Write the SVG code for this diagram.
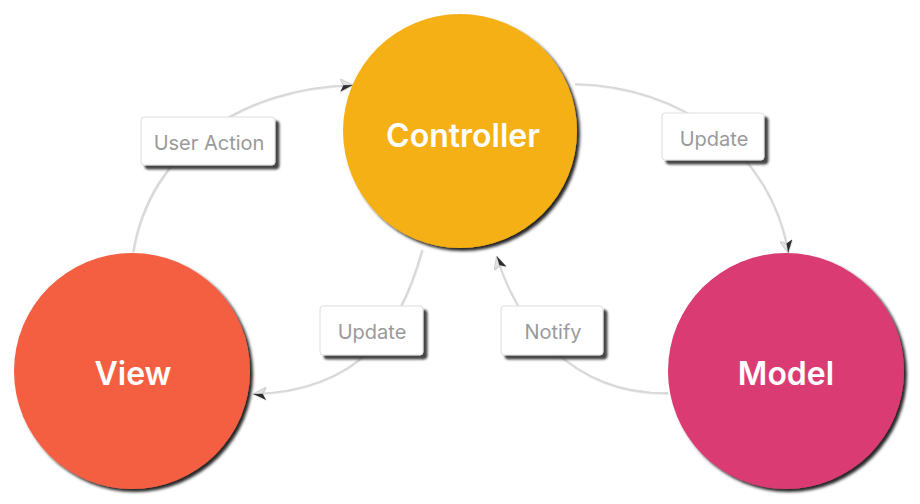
<svg xmlns="http://www.w3.org/2000/svg" width="920" height="504" viewBox="0 0 920 504">
<defs>
<style>
.node-text{font-family:Inter,"Open Sans","Liberation Sans",sans-serif;font-weight:600;font-size:32px;fill:#ffffff;text-anchor:middle}
.lbl-text{font-family:Inter,"Open Sans","Liberation Sans",sans-serif;font-size:20px;fill:#9a9a9a;text-anchor:middle}
.lbl-box{fill:#ffffff;stroke:#dddddd;stroke-width:1}
.conn{fill:none;stroke:#d8d8d8;stroke-width:1.6}
</style>
<filter id="cs" x="-10%" y="-10%" width="125%" height="125%">
<feDropShadow dx="3" dy="3" stdDeviation="1.5" flood-color="#000" flood-opacity="0.85"/>
</filter>
<filter id="bs" x="-10%" y="-10%" width="125%" height="130%">
<feDropShadow dx="4" dy="4" stdDeviation="1" flood-color="#333" flood-opacity="0.9"/>
</filter>
<filter id="ls" x="-10%" y="-10%" width="120%" height="120%">
<feDropShadow dx="0.5" dy="0.5" stdDeviation="0.5" flood-color="#999" flood-opacity="0.5"/>
</filter>
<marker id="mA" viewBox="0 0 12 12" refX="11" refY="6" markerWidth="13" markerHeight="13" markerUnits="userSpaceOnUse" orient="auto">
<path d="M0,0 L12,6 L3,6 Z" fill="#e2e2e2" stroke="#bbbbbb" stroke-width="0.5"/>
<path d="M0,12 L12,6 L3,6 Z" fill="#2f2f2f"/>
</marker>
<marker id="mB" viewBox="0 0 12 12" refX="11" refY="6" markerWidth="13" markerHeight="13" markerUnits="userSpaceOnUse" orient="auto">
<path d="M0,12 L12,6 L3,6 Z" fill="#e2e2e2" stroke="#bbbbbb" stroke-width="0.5"/>
<path d="M0,0 L12,6 L3,6 Z" fill="#2f2f2f"/>
</marker>
</defs>
<rect width="920" height="504" fill="#ffffff"/>
<g id="connectors" filter="url(#ls)">
<path class="conn" d="M133,252 C150,150 240,88 352,85" marker-end="url(#mA)"/>
<path class="conn" d="M575,84 C680,86 770,150 788,252" marker-end="url(#mB)"/>
<path class="conn" d="M422,250 C400,330 360,390 254,394" marker-end="url(#mB)"/>
<path class="conn" d="M668,393 C570,395 515,320 497,257" marker-end="url(#mA)"/>
</g>
<g id="controller">
<circle cx="460" cy="131" r="117" fill="#F5B013" filter="url(#cs)"/>
<text class="node-text" x="463" y="147">Controller</text>
</g>
<g id="view">
<circle cx="132" cy="371" r="118" fill="#F45F43" filter="url(#cs)"/>
<text class="node-text" x="133" y="385">View</text>
</g>
<g id="model">
<circle cx="786" cy="371" r="118" fill="#DA3A73" filter="url(#cs)"/>
<text class="node-text" x="786" y="385">Model</text>
</g>
<g id="label-user-action">
<rect class="lbl-box" x="141" y="117" width="134" height="48" rx="3" filter="url(#bs)"/>
<text class="lbl-text" x="209" y="150">User Action</text>
</g>
<g id="label-update-cm">
<rect class="lbl-box" x="662" y="113" width="102" height="47" rx="3" filter="url(#bs)"/>
<text class="lbl-text" x="714" y="146">Update</text>
</g>
<g id="label-update-cv">
<rect class="lbl-box" x="320" y="306" width="103" height="49" rx="3" filter="url(#bs)"/>
<text class="lbl-text" x="372" y="339">Update</text>
</g>
<g id="label-notify">
<rect class="lbl-box" x="501" y="306" width="102" height="49" rx="3" filter="url(#bs)"/>
<text class="lbl-text" x="553" y="339">Notify</text>
</g>
</svg>
